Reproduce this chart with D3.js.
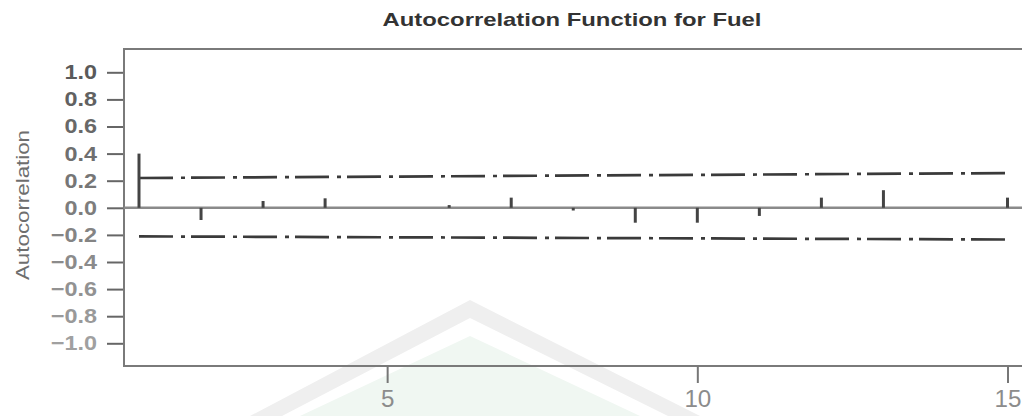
<!DOCTYPE html>
<html>
<head>
<meta charset="utf-8">
<script src="https://cdn.jsdelivr.net/npm/d3@7"></script>
<style>
  html, body { margin: 0; padding: 0; background: #fff; }
  svg { display: block; }
</style>
</head>
<body>
<svg id="chart" width="1022" height="416"></svg>
<script>
// Sample autocorrelation of the Fuel series, lags 1..15
const lags = [1, 2, 3, 4, 5, 6, 7, 8, 9, 10, 11, 12, 13, 14, 15];
const acf = [0.40, -0.09, 0.05, 0.07, 0.00, 0.02, 0.075, -0.02, -0.11, -0.11, -0.06, 0.075, 0.13, 0.00, 0.075];

// Significance limits at the first and last lag
const limitLags = [1, 15];
const upperLimit = [0.22, 0.256];
const lowerLimit = [-0.211, -0.234];

const yTicks = [1.0, 0.8, 0.6, 0.4, 0.2, 0.0, -0.2, -0.4, -0.6, -0.8, -1.0];
const xTicks = [5, 10, 15];

const title = "Autocorrelation Function for Fuel";
const yTitle = "Autocorrelation";

const svg = d3.select("#chart");
const W = 1022, H = 416;
const FONT = "Liberation Sans, Arial, sans-serif";

const box = { left: 124, top: 49, bottom: 366, right: 1030 };

const x = d3.scaleLinear().domain([1, 15]).range([139, 1007.5]);
const y = d3.scaleLinear().domain([-1, 1]).range([343.3, 72.3]);

const fmt = v => (v < 0 ? "\u2212" : "") + Math.abs(v).toFixed(1);

// widen glyphs horizontally by a factor, keeping the anchor
function widen(sel, k) {
  sel.each(function () {
    const len = this.getComputedTextLength();
    d3.select(this).attr("textLength", len * k).attr("lengthAdjust", "spacingAndGlyphs");
  });
}

// faint background emblem
const emb = svg.append("g");
emb.append("path")
  .attr("d", "M250,416 L470,300 L700,416 L668,416 L470,318 L282,416 Z")
  .attr("fill", "#efefef");
emb.append("path")
  .attr("d", "M300,416 L470,336 L640,416 Z")
  .attr("fill", "#f0f7f2");

// frame
svg.append("path")
  .attr("d", `M${box.right},${box.top} L${box.left},${box.top} L${box.left},${box.bottom} L${box.right},${box.bottom}`)
  .attr("fill", "none")
  .attr("stroke", "#7a7a7a")
  .attr("stroke-width", 2);

// y axis
const yAxis = d3.axisLeft(y).tickValues(yTicks).tickFormat(fmt).tickSize(16).tickPadding(10);
const gy = svg.append("g").attr("transform", `translate(${box.left - 1},0)`).call(yAxis);
gy.select(".domain").remove();
gy.selectAll(".tick line").attr("stroke", "#666").attr("stroke-width", 2);
gy.selectAll(".tick text")
  .attr("font-family", FONT)
  .attr("font-size", 20)
  .attr("font-weight", "bold")
  .attr("fill", d => d3.interpolateRgb("#5a5a5a", "#a0a0a0")((1 - d) / 2))
  .call(widen, 1.17);

// x axis
const xAxis = d3.axisBottom(x).tickValues(xTicks).tickFormat(d3.format("d")).tickSize(17).tickPadding(8);
const gx = svg.append("g").attr("transform", `translate(0,${box.bottom})`).call(xAxis);
gx.select(".domain").remove();
gx.selectAll(".tick line").attr("stroke", "#777").attr("stroke-width", 2);
gx.selectAll(".tick text")
  .attr("font-family", FONT)
  .attr("font-size", 23)
  .attr("fill", "#8c8c8c")
  .call(widen, 1.05);

// zero reference line
svg.append("line")
  .attr("x1", box.left).attr("x2", W)
  .attr("y1", y(0)).attr("y2", y(0))
  .attr("stroke", "#8a8a8a")
  .attr("stroke-width", 2.5);

// significance limits
const limitLine = d3.line().x((d, i) => x(limitLags[i])).y(d => y(d));
[upperLimit, lowerLimit].forEach(vals => {
  svg.append("path")
    .attr("d", limitLine(vals))
    .attr("fill", "none")
    .attr("stroke", "#3a3a3a")
    .attr("stroke-width", 2.7)
    .attr("stroke-dasharray", "34,8,4,6");
});

// autocorrelation spikes
svg.append("g").selectAll("line")
  .data(lags.map((l, i) => ({ lag: l, r: acf[i] })))
  .join("line")
  .attr("x1", d => x(d.lag)).attr("x2", d => x(d.lag))
  .attr("y1", y(0)).attr("y2", d => y(d.r))
  .attr("stroke", "#444")
  .attr("stroke-width", 3);

// titles
svg.append("text")
  .attr("x", 572).attr("y", 26)
  .attr("text-anchor", "middle")
  .attr("font-family", FONT)
  .attr("font-weight", "bold")
  .attr("font-size", 19)
  .attr("fill", "#333")
  .attr("textLength", 379)
  .attr("lengthAdjust", "spacingAndGlyphs")
  .text(title);

svg.append("text")
  .attr("transform", `translate(29,205) rotate(-90)`)
  .attr("text-anchor", "middle")
  .attr("font-family", FONT)
  .attr("font-size", 19)
  .attr("fill", "#6e6e6e")
  .attr("textLength", 150)
  .attr("lengthAdjust", "spacingAndGlyphs")
  .text(yTitle);
</script>
</body>
</html>
